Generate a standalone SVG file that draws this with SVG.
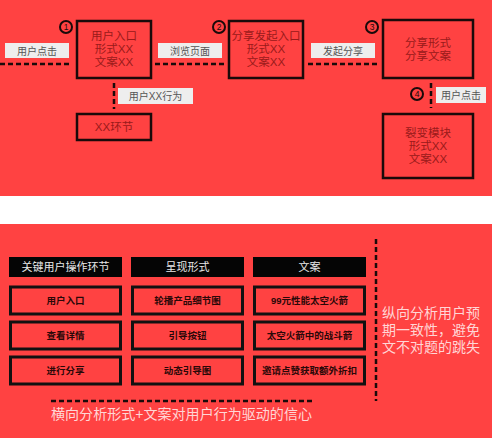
<svg xmlns="http://www.w3.org/2000/svg" width="492" height="438" viewBox="0 0 492 438">
<style>
.bg{fill:#ff4242}
.box{fill:#ff4242;stroke:#1a0a0a;stroke-width:2.5}
.bt{font-family:"Liberation Sans","Noto Sans CJK SC",sans-serif;font-size:11.5px;fill:#9a1a1a;text-anchor:middle}
.lab{fill:#eeeeee}
.lt{font-family:"Liberation Sans","Noto Sans CJK SC",sans-serif;font-size:10px;fill:#555;text-anchor:middle}
.dash{stroke:#1a0a0a;stroke-width:2.5;stroke-dasharray:5,3;fill:none}
.num{fill:none;stroke:#1a0a0a;stroke-width:2}
.nt{font-family:"Liberation Sans",sans-serif;font-size:8.5px;fill:#1a0a0a;text-anchor:middle}
.hd{fill:#050505}
.ht{font-family:"Liberation Sans","Noto Sans CJK SC",sans-serif;font-size:11px;fill:#e8e8e8;text-anchor:middle}
.cell{fill:#ff4242;stroke:#111;stroke-width:3}
.ct{font-family:"Liberation Sans","Noto Sans CJK SC",sans-serif;font-size:9.5px;font-weight:bold;fill:#2a0808;text-anchor:middle}
.nt2{font-family:"Liberation Sans","Noto Sans CJK SC",sans-serif;font-size:14px;fill:#ffd6d6}
</style>
<rect class="bg" x="0" y="0" width="492" height="196"/>
<rect x="0" y="196" width="492" height="28" fill="#ffffff"/>
<rect class="bg" x="0" y="224" width="492" height="214"/>

<g id="connectors">
<line class="dash" x1="0" y1="64" x2="72" y2="64"/>
<line class="dash" x1="155" y1="64" x2="226" y2="64"/>
<line class="dash" x1="308" y1="64" x2="378" y2="64"/>
<line class="dash" x1="114" y1="83" x2="114" y2="109"/>
<line class="dash" x1="431" y1="83" x2="431" y2="108"/>
<line class="dash" x1="51" y1="401" x2="312" y2="401"/>
<line class="dash" x1="376" y1="239" x2="376" y2="401"/>
</g>

<g id="label-click1"><rect class="lab" x="5" y="43" width="64" height="15"/><text class="lt" x="37" y="54.5">用户点击</text></g>
<g id="label-browse"><rect class="lab" x="158" y="43" width="64" height="15"/><text class="lt" x="190" y="54.5">浏览页面</text></g>
<g id="label-share"><rect class="lab" x="311" y="43" width="64" height="15"/><text class="lt" x="343" y="54.5">发起分享</text></g>
<g id="label-behavior"><rect class="lab" x="118" y="88" width="75" height="16"/><text class="lt" x="155.5" y="99.5">用户XX行为</text></g>
<g id="label-click2"><rect class="lab" x="436" y="87" width="50" height="16"/><text class="lt" x="461" y="98.5">用户点击</text></g>

<g id="num1"><circle class="num" cx="66" cy="27" r="6"/><text class="nt" x="66" y="30">1</text></g>
<g id="num2"><circle class="num" cx="219" cy="27" r="6"/><text class="nt" x="219" y="30">2</text></g>
<g id="num3"><circle class="num" cx="372" cy="27" r="6"/><text class="nt" x="372" y="30">3</text></g>
<g id="num4"><circle class="num" cx="417" cy="94" r="6"/><text class="nt" x="417" y="97">4</text></g>

<g id="node-entry"><rect class="box" x="77" y="21" width="74" height="57"/>
<text class="bt" x="114" y="40">用户入口</text><text class="bt" x="114" y="53">形式XX</text><text class="bt" x="114" y="66">文案XX</text></g>
<g id="node-share-entry"><rect class="box" x="229" y="21" width="74" height="57"/>
<text class="bt" x="266" y="40">分享发起入口</text><text class="bt" x="266" y="53">形式XX</text><text class="bt" x="266" y="66">文案XX</text></g>
<g id="node-share-form"><rect class="box" x="383" y="20" width="90" height="58"/>
<text class="bt" x="428" y="47">分享形式</text><text class="bt" x="428" y="60">分享文案</text></g>
<g id="node-fission"><rect class="box" x="383" y="114" width="90" height="64"/>
<text class="bt" x="428" y="137">裂变模块</text><text class="bt" x="428" y="150">形式XX</text><text class="bt" x="428" y="163">文案XX</text></g>
<g id="node-xx"><rect class="box" x="77" y="114" width="74" height="26"/>
<text class="bt" x="114" y="131">XX环节</text></g>

<g id="header-1"><rect class="hd" x="9" y="257" width="113" height="20"/><text class="ht" x="65.5" y="271">关键用户操作环节</text></g>
<g id="header-2"><rect class="hd" x="131" y="257" width="113" height="20"/><text class="ht" x="187.5" y="271">呈现形式</text></g>
<g id="header-3"><rect class="hd" x="253" y="257" width="113" height="20"/><text class="ht" x="309.5" y="271">文案</text></g>

<g id="cell-1-1"><rect class="cell" x="10.5" y="287" width="110" height="27"/><text class="ct" x="65.5" y="304">用户入口</text></g>
<g id="cell-2-1"><rect class="cell" x="10.5" y="322" width="110" height="27"/><text class="ct" x="65.5" y="339">查看详情</text></g>
<g id="cell-3-1"><rect class="cell" x="10.5" y="357" width="110" height="27"/><text class="ct" x="65.5" y="374">进行分享</text></g>
<g id="cell-1-2"><rect class="cell" x="132.5" y="287" width="110" height="27"/><text class="ct" x="187.5" y="304">轮播产品细节图</text></g>
<g id="cell-2-2"><rect class="cell" x="132.5" y="322" width="110" height="27"/><text class="ct" x="187.5" y="339">引导按钮</text></g>
<g id="cell-3-2"><rect class="cell" x="132.5" y="357" width="110" height="27"/><text class="ct" x="187.5" y="374">动态引导图</text></g>
<g id="cell-1-3"><rect class="cell" x="254.5" y="287" width="110" height="27"/><text class="ct" x="309.5" y="304">99元性能太空火箭</text></g>
<g id="cell-2-3"><rect class="cell" x="254.5" y="322" width="110" height="27"/><text class="ct" x="309.5" y="339">太空火箭中的战斗箭</text></g>
<g id="cell-3-3"><rect class="cell" x="254.5" y="357" width="110" height="27"/><text class="ct" x="309.5" y="374">邀请点赞获取额外折扣</text></g>

<g id="note-horizontal"><text class="nt2" x="51" y="419" textLength="261" lengthAdjust="spacingAndGlyphs">横向分析形式+文案对用户行为驱动的信心</text></g>
<g id="note-vertical">
<text class="nt2" x="382" y="318">纵向分析用户预</text>
<text class="nt2" x="382" y="335">期一致性，避免</text>
<text class="nt2" x="382" y="352">文不对题的跳失</text>
</g>
</svg>
